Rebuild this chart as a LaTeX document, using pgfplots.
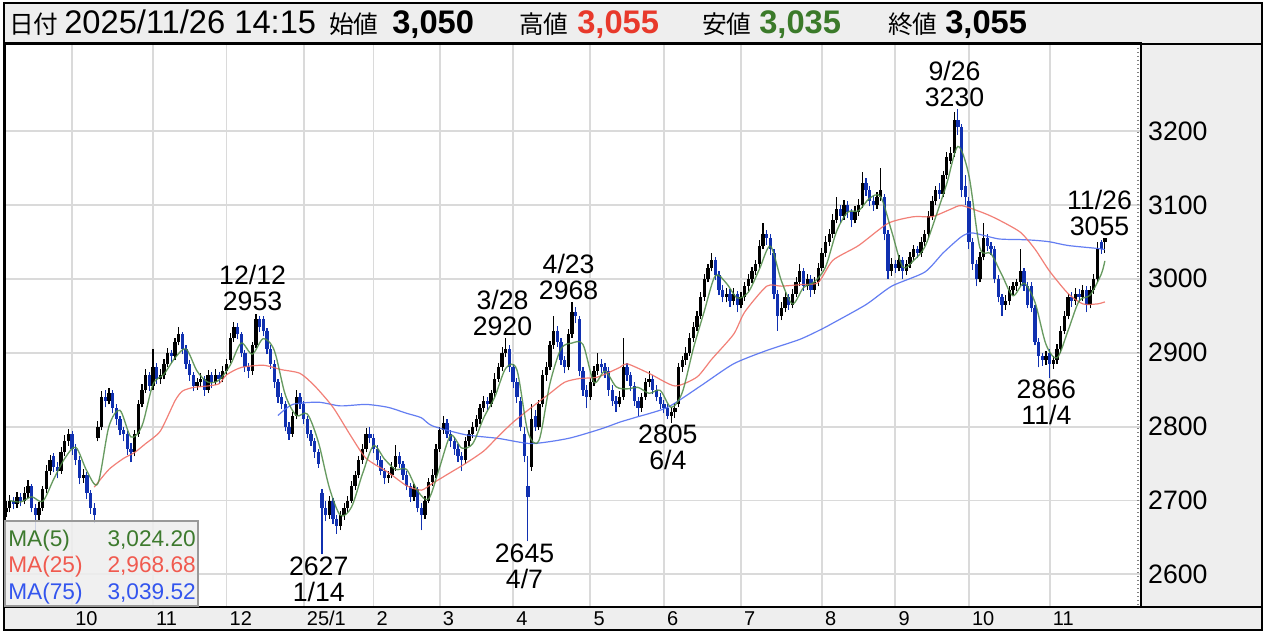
\documentclass[border=0pt]{standalone}
\usepackage{fontspec}
\setmainfont{Liberation Sans}
\newfontfamily\jp{Noto Sans CJK JP}
\usepackage{pgfplots}
\pgfplotsset{compat=1.18}
\usepackage{pgfplotstable}

\definecolor{dn}{HTML}{1030B0}
\definecolor{ma5}{HTML}{4E8A46}
\definecolor{ma25}{HTML}{F06A60}
\definecolor{ma75}{HTML}{4A68F0}
\definecolor{ma5t}{HTML}{3D7A2E}
\definecolor{ma25t}{HTML}{F05A4F}
\definecolor{ma75t}{HTML}{3355EE}
\definecolor{gridc}{HTML}{DADADA}
\definecolor{panel}{HTML}{EEEEEE}
\definecolor{hred}{HTML}{E8392B}
\definecolor{hgreen}{HTML}{3B7A2A}

% daily candles: index, open, high, low, close
\pgfplotstableread{
i o h l c
0 2685 2700 2678 2690
1 2690 2708 2684 2700
2 2700 2705 2688 2695
3 2695 2712 2690 2705
4 2705 2710 2692 2700
5 2700 2718 2695 2710
6 2710 2728 2704 2720
7 2720 2722 2684 2690
8 2690 2695 2656 2680
9 2680 2698 2672 2690
10 2690 2720 2686 2715
11 2715 2748 2710 2740
12 2740 2762 2735 2755
13 2760 2764 2738 2745
14 2745 2752 2730 2740
15 2740 2772 2736 2765
16 2765 2788 2760 2780
17 2780 2797 2774 2790
18 2790 2794 2762 2770
19 2770 2776 2748 2755
20 2755 2760 2722 2730
21 2730 2742 2724 2735
22 2735 2738 2702 2710
23 2710 2714 2682 2690
24 2690 2696 2670 2680
25 2785 2808 2780 2800
26 2800 2848 2795 2840
27 2840 2850 2826 2835
28 2835 2852 2830 2845
29 2845 2849 2818 2825
30 2825 2830 2802 2810
31 2810 2815 2788 2795
32 2795 2800 2780 2790
33 2790 2794 2762 2770
34 2770 2778 2752 2765
35 2765 2796 2760 2790
36 2790 2836 2786 2830
37 2830 2858 2826 2850
38 2850 2878 2846 2870
39 2870 2874 2848 2855
40 2855 2905 2850 2880
41 2880 2886 2858 2865
42 2865 2878 2858 2870
43 2870 2892 2864 2885
44 2885 2906 2880 2900
45 2900 2904 2886 2895
46 2895 2920 2890 2915
47 2915 2935 2910 2925
48 2925 2928 2898 2905
49 2905 2910 2878 2885
50 2885 2890 2862 2870
51 2870 2874 2848 2855
52 2855 2866 2850 2860
53 2860 2872 2854 2865
54 2865 2868 2842 2850
55 2850 2876 2846 2870
56 2870 2874 2852 2860
57 2860 2878 2856 2870
58 2870 2874 2858 2865
59 2865 2882 2860 2875
60 2875 2892 2870 2885
61 2890 2926 2886 2920
62 2920 2942 2915 2935
63 2935 2940 2918 2925
64 2925 2928 2894 2900
65 2900 2904 2874 2880
66 2880 2886 2866 2875
67 2875 2915 2870 2910
68 2910 2953 2906 2945
69 2945 2950 2928 2935
70 2945 2950 2922 2930
71 2930 2934 2898 2905
72 2905 2910 2878 2885
73 2885 2890 2852 2860
74 2860 2864 2832 2840
75 2840 2846 2824 2830
76 2830 2834 2794 2800
77 2800 2806 2782 2790
78 2790 2820 2786 2815
79 2815 2850 2810 2840
80 2840 2846 2824 2830
81 2830 2834 2804 2810
82 2810 2815 2784 2790
83 2790 2796 2774 2780
84 2780 2784 2758 2765
85 2765 2770 2744 2750
86 2710 2715 2627 2690
87 2690 2700 2672 2680
88 2680 2706 2675 2700
89 2700 2704 2668 2675
90 2675 2680 2655 2665
91 2665 2686 2660 2680
92 2680 2696 2674 2690
93 2690 2706 2684 2700
94 2700 2726 2696 2720
95 2720 2740 2714 2735
96 2735 2760 2730 2755
97 2755 2776 2750 2770
98 2770 2798 2765 2790
99 2790 2800 2778 2785
100 2785 2790 2764 2770
101 2770 2775 2748 2755
102 2755 2760 2734 2740
103 2740 2744 2722 2730
104 2730 2740 2724 2735
105 2735 2752 2730 2745
106 2745 2775 2740 2760
107 2760 2765 2744 2750
108 2750 2754 2728 2735
109 2735 2740 2714 2720
110 2720 2724 2698 2705
111 2705 2722 2700 2715
112 2715 2718 2684 2690
113 2690 2696 2660 2680
114 2680 2706 2675 2700
115 2700 2730 2696 2725
116 2725 2742 2720 2735
117 2735 2776 2730 2770
118 2770 2800 2766 2795
119 2795 2815 2790 2805
120 2805 2810 2784 2790
121 2790 2796 2772 2780
122 2780 2786 2762 2770
123 2770 2776 2752 2760
124 2760 2766 2740 2755
125 2755 2786 2750 2780
126 2780 2796 2774 2790
127 2790 2806 2784 2800
128 2800 2816 2794 2810
129 2810 2830 2804 2825
130 2825 2842 2820 2835
131 2835 2840 2822 2830
132 2830 2850 2826 2845
133 2845 2872 2840 2865
134 2865 2886 2860 2880
135 2880 2908 2875 2900
136 2900 2920 2894 2905
137 2905 2910 2874 2880
138 2880 2885 2852 2860
139 2860 2866 2832 2840
140 2835 2840 2794 2800
141 2790 2800 2752 2760
142 2720 2760 2645 2705
143 2745 2830 2740 2810
144 2815 2822 2794 2800
145 2800 2836 2796 2830
146 2830 2876 2826 2870
147 2870 2888 2862 2880
148 2880 2916 2876 2910
149 2910 2950 2905 2930
150 2930 2936 2908 2915
151 2915 2920 2884 2890
152 2890 2896 2872 2880
153 2880 2932 2876 2925
154 2925 2968 2920 2955
155 2955 2962 2940 2950
156 2945 2950 2868 2875
157 2875 2880 2842 2850
158 2850 2856 2825 2840
159 2840 2866 2836 2860
160 2860 2882 2855 2875
161 2875 2900 2870 2885
162 2885 2892 2872 2880
163 2880 2886 2866 2875
164 2875 2880 2842 2850
165 2850 2856 2828 2835
166 2835 2842 2820 2830
167 2830 2848 2826 2840
168 2840 2920 2836 2880
169 2880 2886 2862 2870
170 2870 2874 2848 2855
171 2855 2860 2828 2835
172 2835 2840 2815 2825
173 2825 2846 2820 2840
174 2840 2866 2836 2860
175 2860 2875 2854 2865
176 2865 2870 2844 2850
177 2850 2856 2834 2840
178 2840 2846 2824 2830
179 2830 2836 2818 2825
180 2825 2830 2810 2815
181 2815 2826 2805 2820
182 2820 2832 2812 2825
183 2830 2886 2826 2880
184 2880 2896 2874 2890
185 2890 2908 2884 2900
186 2900 2926 2896 2920
187 2920 2942 2915 2935
188 2935 2956 2930 2950
189 2950 2982 2946 2975
190 2975 3006 2970 3000
191 3000 3020 2995 3015
192 3015 3035 3010 3025
193 3025 3030 2998 3005
194 3005 3010 2978 2985
195 2985 2992 2968 2975
196 2975 2988 2968 2980
197 2980 2986 2962 2970
198 2970 2988 2964 2980
199 2980 2984 2955 2965
200 2965 2982 2960 2975
201 2975 2996 2970 2990
202 2990 3006 2984 3000
203 3000 3016 2994 3010
204 3010 3026 3005 3020
205 3020 3052 3015 3045
206 3045 3075 3040 3060
207 3060 3066 3046 3055
208 3055 3060 3032 3040
209 3035 3040 2972 2980
210 2980 2985 2930 2950
211 2950 2968 2944 2960
212 2960 2982 2955 2975
213 2975 2980 2958 2965
214 2965 2986 2960 2980
215 2980 3002 2975 2995
216 2995 3020 2990 3010
217 3010 3014 2984 2990
218 2990 3006 2985 3000
219 3000 3005 2975 2985
220 2985 3002 2980 2995
221 2995 3022 2990 3015
222 3015 3042 3010 3035
223 3035 3058 3030 3050
224 3050 3068 3045 3060
225 3060 3088 3055 3080
226 3080 3110 3075 3095
227 3095 3100 3076 3085
228 3085 3106 3080 3100
229 3100 3105 3082 3090
230 3090 3095 3070 3080
231 3080 3098 3075 3090
232 3090 3108 3085 3100
233 3100 3145 3096 3130
234 3130 3136 3112 3120
235 3120 3126 3098 3105
236 3105 3112 3092 3100
237 3100 3118 3095 3110
238 3110 3150 3105 3120
239 3110 3115 3052 3060
240 3060 3066 3000 3010
241 3010 3028 3004 3020
242 3020 3026 3008 3015
243 3015 3032 3010 3025
244 3025 3030 3000 3010
245 3010 3026 3005 3020
246 3020 3036 3015 3030
247 3030 3046 3025 3040
248 3040 3045 3028 3035
249 3035 3056 3030 3050
250 3050 3066 3045 3060
251 3060 3092 3055 3085
252 3085 3112 3080 3105
253 3105 3126 3100 3120
254 3120 3130 3108 3115
255 3115 3146 3110 3140
256 3140 3172 3135 3165
257 3160 3178 3155 3170
258 3170 3225 3165 3215
259 3215 3230 3195 3205
260 3205 3210 3110 3120
261 3125 3140 3100 3110
262 3105 3110 3040 3050
263 3050 3055 3012 3020
264 3020 3026 2990 3000
265 3000 3036 2995 3030
266 3030 3075 3025 3055
267 3055 3060 3038 3045
268 3045 3050 3032 3040
269 3040 3044 2994 3000
270 3000 3005 2968 2975
271 2975 2980 2950 2965
272 2965 2978 2958 2970
273 2970 2990 2965 2985
274 2985 2996 2978 2990
275 2990 3000 2984 2995
276 2995 3040 2990 3010
277 3010 3014 2984 2990
278 2990 2995 2960 2965
279 2990 2995 2955 2960
280 2960 2964 2910 2915
281 2915 2920 2880 2895
282 2895 2900 2882 2890
283 2890 2902 2884 2895
284 2900 2905 2866 2885
285 2885 2896 2878 2890
286 2890 2912 2885 2905
287 2905 2936 2900 2930
288 2930 2956 2925 2950
289 2950 2980 2945 2975
290 2975 2982 2962 2970
291 2970 2988 2965 2980
292 2980 2986 2968 2975
293 2975 2992 2970 2985
294 2985 2990 2955 2965
295 2965 2990 2960 2985
296 2985 3006 2980 3000
297 3000 3050 2996 3040
298 3050 3052 3034 3040
299 3050 3055 3035 3055
}\candles

\pgfplotstableread{
i v
1 2700
4 2698
7 2705
10 2699
13 2729
16 2757
19 2772
22 2740
25 2723
28 2800
31 2822
34 2786
37 2801
40 2857
43 2871
46 2893
49 2905
52 2875
55 2860
58 2863
61 2883
64 2913
67 2898
70 2919
73 2903
76 2843
79 2815
82 2817
85 2779
88 2717
91 2680
94 2691
97 2736
100 2774
103 2756
106 2742
109 2742
112 2713
115 2702
118 2745
121 2788
124 2771
127 2777
130 2812
133 2840
136 2879
139 2877
142 2793
145 2781
148 2858
151 2905
154 2913
157 2911
160 2860
163 2875
166 2854
169 2851
172 2853
175 2845
178 2849
181 2826
184 2846
187 2905
190 2956
193 3004
196 2994
199 2974
202 2982
205 3013
208 3044
211 2997
214 2966
217 2988
220 2996
223 3016
226 3064
229 3090
232 3092
235 3109
238 3111
241 3064
244 3016
247 3025
250 3043
253 3084
256 3129
259 3179
262 3140
265 3042
268 3034
271 3005
274 2977
277 2994
280 2968
283 2911
286 2893
289 2930
292 2970
295 2978
298 3006
299 3024.2
}\mafive

\pgfplotstableread{
i v
24 2718
28 2742
32 2757
35 2765
38 2777
42 2794
46 2835
48 2848
51 2853
55 2855
58 2858
60 2870
64 2880
70 2883
75 2877
80 2872
84 2855
89 2826
94 2786
98 2757
104 2738
109 2720
113 2714
116 2723
121 2738
125 2750
130 2767
134 2787
138 2806
143 2826
148 2845
152 2860
156 2865
161 2867
167 2880
169 2885
175 2872
182 2855
188 2867
192 2891
198 2925
201 2955
207 2990
211 2990
216 2992
221 2995
225 3025
232 3045
240 3075
247 3084
252 3084
257 3094
260 3099
266 3089
270 3080
276 3063
280 3040
284 3010
289 2980
293 2966
297 2966
299 2968.68
}\matwentyfive

\pgfplotstableread{
i v
74 2815
78 2830
85 2833
91 2828
98 2830
104 2826
109 2818
113 2812
116 2801
125 2789
134 2784
143 2777
153 2784
162 2797
167 2806
171 2812
180 2826
189 2855
198 2885
207 2903
216 2918
222 2932
225 2940
234 2965
241 2990
250 3009
255 3035
260 3057
263 3062
270 3054
276 3053
280 3052
284 3050
289 3045
297 3041
299 3039.52
}\maseventyfive

\tikzset{
  lbl/.style={font=\fontsize{20}{19.5}\selectfont, align=center, inner sep=1.5pt, xshift=-2.5pt},
}
\pgfplotsset{
  candle/.style={only marks, mark=*, mark size=0pt,
    mark options={draw=none, fill=none}, forget plot},
}

\begin{document}
\begin{tikzpicture}
\useasboundingbox (-3.75pt,-21.75pt) rectangle (945.75pt,455.25pt);
\fill[white] (-3.75pt,-21.75pt) rectangle (945.75pt,455.25pt);
% pixel coordinates of the reference
\begin{scope}[shift={(-3.75pt,455.25pt)}, x=0.75pt, y=-0.75pt]
  \fill[panel] (4,3) rectangle (1262,44);
  \fill[panel] (1141,44) rectangle (1262,607);
  \fill[panel] (4,607) rectangle (1262,630);
\end{scope}

\begin{axis}[
  at={(0,0)}, anchor=south west, scale only axis,
  width=852pt, height=423pt,
  xmin=-0.272, xmax=308.84, ymin=2555.9, ymax=3319,
  axis line style={line width=1.5pt},
  grid=major, grid style={gridc, line width=1.4pt},
  tick style={draw=none},
  xtick={18,40,60,81,100,118,138,159,179,200,222,242,262,284},
  xticklabels={10,11,12,25/1,2,3,4,5,6,7,8,9,10,11},
  xticklabel style={anchor=west, inner sep=0pt, xshift=2.2pt, yshift=-8.8pt,
    font=\fontsize{15}{15}\selectfont},
  ytick={2600,2700,2800,2900,3000,3100,3200},
  yticklabels={2600,2700,2800,2900,3000,3100,3200},
  yticklabel pos=right,
  yticklabel style={anchor=west, inner sep=0pt, xshift=5.2pt,
    font=\fontsize{20}{20}\selectfont},
]
% wicks
\addplot[candle,
  error bars/.cd, y dir=plus, y explicit, error mark=none,
  error bar style={black, line width=0.9pt}]
  table[x=i, y expr={\thisrow{c}<\thisrow{o} ? nan : \thisrow{l}},
        y error expr={\thisrow{h}-\thisrow{l}}] {\candles};
\addplot[candle,
  error bars/.cd, y dir=plus, y explicit, error mark=none,
  error bar style={dn, line width=0.9pt}]
  table[x=i, y expr={\thisrow{c}<\thisrow{o} ? \thisrow{l} : nan},
        y error expr={\thisrow{h}-\thisrow{l}}] {\candles};
% bodies
\addplot[candle,
  error bars/.cd, y dir=both, y explicit, error mark=none,
  error bar style={black, line width=2.5pt}]
  table[x=i, y expr={\thisrow{c}<\thisrow{o} ? nan : (\thisrow{o}+\thisrow{c})/2},
        y error expr={max(abs(\thisrow{c}-\thisrow{o})/2,1.5)}] {\candles};
\addplot[candle,
  error bars/.cd, y dir=both, y explicit, error mark=none,
  error bar style={dn, line width=2.5pt}]
  table[x=i, y expr={\thisrow{c}<\thisrow{o} ? (\thisrow{o}+\thisrow{c})/2 : nan},
        y error expr={max(abs(\thisrow{c}-\thisrow{o})/2,1.5)}] {\candles};
% moving averages
\addplot[ma75, line width=0.9pt, opacity=0.85, smooth, tension=0.4] table[x=i, y=v] {\maseventyfive};
\addplot[ma25, line width=0.9pt, opacity=0.85, smooth, tension=0.4] table[x=i, y=v] {\matwentyfive};
\addplot[ma5, line width=1pt, opacity=0.85, smooth, tension=0.5] table[x=i, y=v] {\mafive};

% high / low annotations
\node[lbl, anchor=south] at (axis cs:68,2953) {12/12\\2953};
\node[lbl, anchor=north] at (axis cs:86,2627) {2627\\1/14};
\node[lbl, anchor=south] at (axis cs:136,2920) {3/28\\2920};
\node[lbl, anchor=south] at (axis cs:154,2968) {4/23\\2968};
\node[lbl, anchor=north] at (axis cs:142,2645) {2645\\4/7};
\node[lbl, anchor=north] at (axis cs:181,2805) {2805\\6/4};
\node[lbl, anchor=south] at (axis cs:259,3230) {9/26\\3230};
\node[lbl, anchor=north] at (axis cs:284,2866) {2866\\11/4};
\node[lbl, anchor=south, xshift=-1.5pt] at (axis cs:299,3055) {11/26\\3055};
\end{axis}

\begin{scope}[shift={(-3.75pt,455.25pt)}, x=0.75pt, y=-0.75pt]
  % frame
  \draw[gray, dotted, line width=1pt] (1138,44) -- (1138,607);
  \draw[line width=1.5pt] (4,3) rectangle (1262,630);
  \draw[line width=1.5pt] (4,44) -- (1262,44);
  \draw[line width=1.5pt] (4,607) -- (1262,607);
  \draw[line width=1.5pt] (1141,44) -- (1141,607);
  % header
  \begin{scope}[every node/.style={anchor=base west, inner sep=0pt}]
    \node[font=\jp\fontsize{18.5}{20}\selectfont] at (9,34) {日付};
    \node[font=\fontsize{24.5}{26}\selectfont] at (64,34) {2025/11/26 14:15};
    \node[font=\jp\fontsize{18.5}{20}\selectfont] at (329,34) {始値};
    \node[font=\fontsize{24.5}{26}\selectfont\bfseries] at (392,34) {3,050};
    \node[font=\jp\fontsize{18.5}{20}\selectfont] at (519,34) {高値};
    \node[font=\fontsize{24.5}{26}\selectfont\bfseries, text=hred] at (577,34) {3,055};
    \node[font=\jp\fontsize{18.5}{20}\selectfont] at (702,34) {安値};
    \node[font=\fontsize{24.5}{26}\selectfont\bfseries, text=hgreen] at (759,34) {3,035};
    \node[font=\jp\fontsize{18.5}{20}\selectfont] at (888,34) {終値};
    \node[font=\fontsize{24.5}{26}\selectfont\bfseries] at (945,34) {3,055};
  \end{scope}
  % MA legend box
  \fill[panel, fill opacity=0.85] (5,521) rectangle (198,606);
  \draw[gray!80, line width=1.1pt] (5,521) rectangle (198,606);
  \begin{scope}[every node/.style={inner sep=0pt, font=\fontsize{17}{18}\selectfont}]
    \node[anchor=base west, text=ma5t] at (8,546) {MA(5)};
    \node[anchor=base east, text=ma5t] at (196,546) {3,024.20};
    \node[anchor=base west, text=ma25t] at (8,572) {MA(25)};
    \node[anchor=base east, text=ma25t] at (196,572) {2,968.68};
    \node[anchor=base west, text=ma75t] at (8,599) {MA(75)};
    \node[anchor=base east, text=ma75t] at (196,599) {3,039.52};
  \end{scope}
\end{scope}
\end{tikzpicture}
\end{document}
